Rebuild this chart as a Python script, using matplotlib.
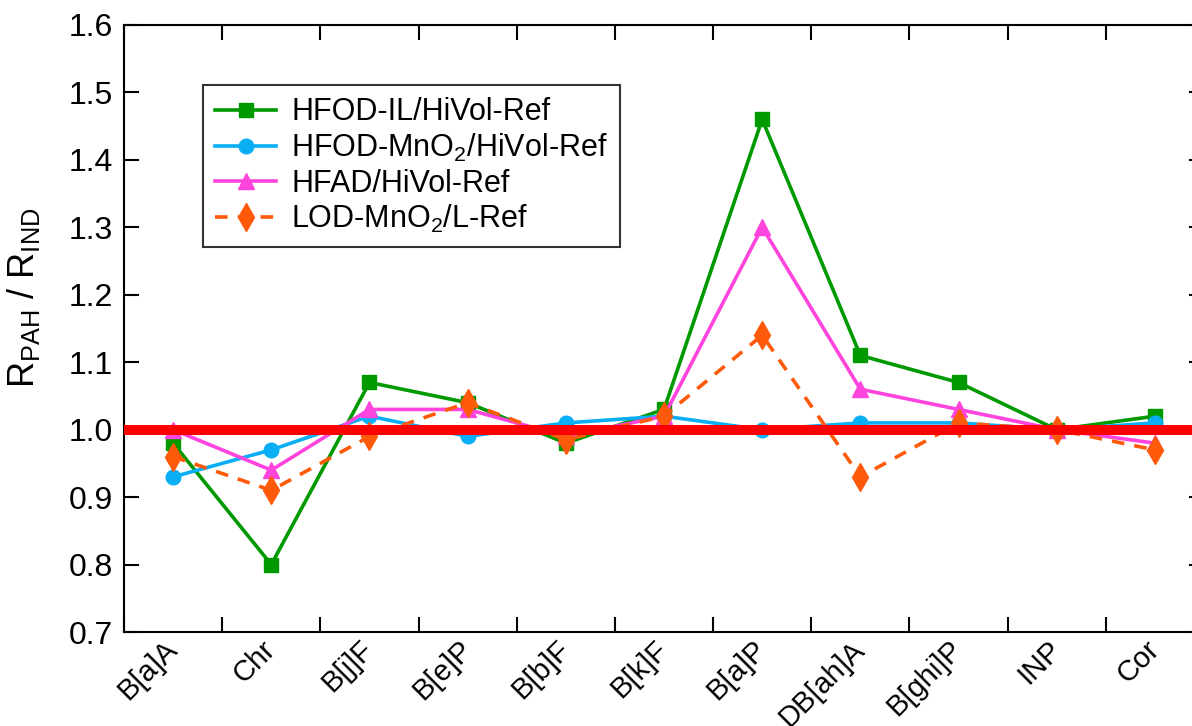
import matplotlib
matplotlib.use("Agg")
import matplotlib.pyplot as plt
import numpy as np

plt.rcParams['font.family'] = ['Liberation Sans', 'DejaVu Sans']
plt.rcParams['mathtext.fontset'] = 'custom'
plt.rcParams['mathtext.rm'] = 'Liberation Sans'
plt.rcParams['mathtext.it'] = 'Liberation Sans'

categories = ["B[a]A", "Chr", "B[j]F", "B[e]P", "B[b]F", "B[k]F", "B[a]P",
              "DB[ah]A", "B[ghi]P", "INP", "Cor"]
hfod_il = [0.98, 0.80, 1.07, 1.04, 0.98, 1.03, 1.46, 1.11, 1.07, 1.00, 1.02]
hfod_mno2 = [0.93, 0.97, 1.02, 0.99, 1.01, 1.02, 1.00, 1.01, 1.01, 1.00, 1.01]
hfad = [1.00, 0.94, 1.03, 1.03, 0.99, 1.02, 1.30, 1.06, 1.03, 1.00, 0.98]
lod_mno2 = [0.96, 0.91, 0.99, 1.04, 0.985, 1.02, 1.14, 0.93, 1.01, 1.00, 0.97]
yticks = [0.7, 0.8, 0.9, 1.0, 1.1, 1.2, 1.3, 1.4, 1.5, 1.6]

fig = plt.figure(figsize=(11.92, 7.26), dpi=100)
ax = fig.add_axes([124/1192, 1 - 632/726, (1204-124)/1192, (632-25)/726])

x = np.arange(len(categories))
ax.plot(x, hfod_il, color='#009900', lw=2.6, marker='s', ms=10.5,
        label='HFOD-IL/HiVol-Ref')
ax.plot(x, hfod_mno2, color='#0AAEF5', lw=2.6, marker='o', ms=10.5,
        label=r'HFOD-MnO$\mathregular{_2}$/HiVol-Ref')
ax.plot(x, hfad, color='#FF44DD', lw=2.6, marker='^', ms=11.5,
        label='HFAD/HiVol-Ref')
ax.plot(x, lod_mno2, color='#FF5A0A', lw=2.6, ls=(0, (3.5, 2.8)), marker='d', ms=14,
        label=r'LOD-MnO$\mathregular{_2}$/L-Ref')
ax.axhline(1.0, color='#FF0000', lw=7.2, zorder=5)

ax.set_xlim(-0.5, len(categories) - 0.5)
ax.set_ylim(0.7, 1.6)
ax.set_yticks(yticks)
ax.set_yticklabels([f"{v:.1f}" for v in yticks])
ax.set_xticks(x)
ax.set_xticklabels(categories, rotation=45, ha='right', va='center',
                   rotation_mode='anchor', fontsize=21)
ax.set_xticks(np.arange(len(categories) + 1) - 0.5, minor=True)
ax.tick_params(axis='x', which='major', length=0, pad=9.5)
ax.tick_params(axis='x', which='minor', direction='in', length=11, width=1.5,
               top=True, bottom=True)
ax.tick_params(axis='y', which='major', direction='in', length=11, width=1.5,
               left=True, right=True, labelsize=23, pad=8)
for s in ax.spines.values():
    s.set_linewidth(1.5)

ax.set_ylabel(r'R$_{\mathregular{PAH}}$ / R$_{\mathregular{IND}}$', fontsize=26)
ax.yaxis.set_label_coords(-0.076, 0.55)

leg = ax.legend(loc='upper left', bbox_to_anchor=(0.073, 0.901), borderaxespad=0,
                fontsize=22, frameon=True, fancybox=False, handlelength=2.0,
                labelspacing=0.15, borderpad=0.4, handletextpad=0.5)
leg.get_frame().set_edgecolor('black')
leg.get_frame().set_linewidth(1.5)

fig.savefig('out.png', dpi=100)
